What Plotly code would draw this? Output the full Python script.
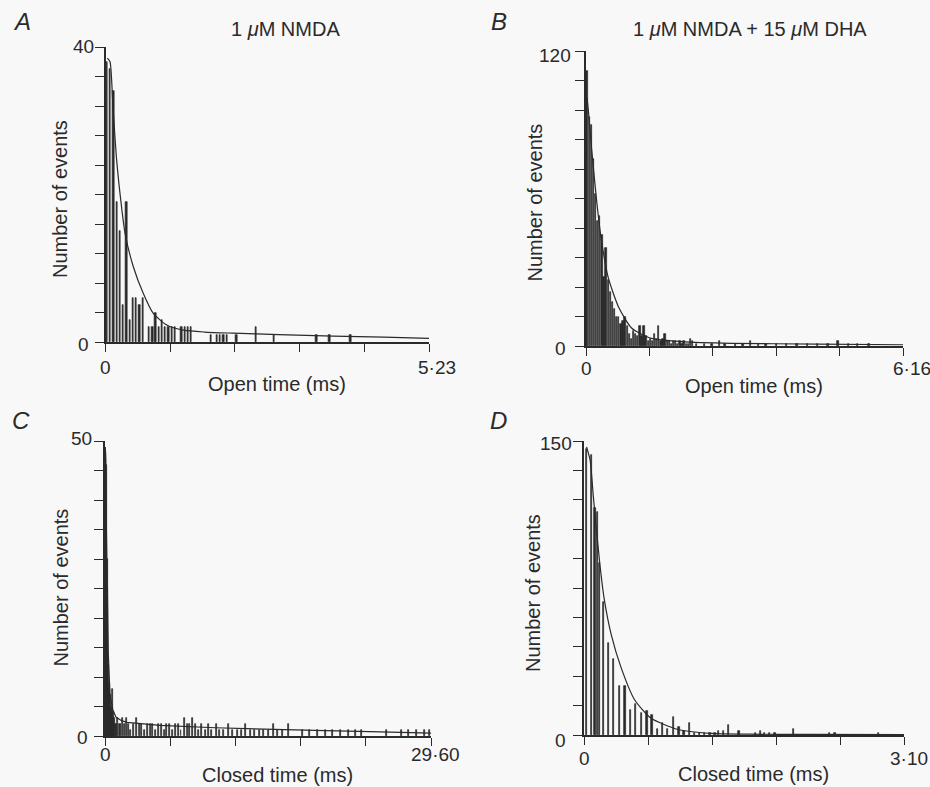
import plotly.graph_objects as go

W, H = 930, 787
BG = "#f8f8f8"
INK = "#2a2a2a"
FONT = "Liberation Sans, Arial, Helvetica, sans-serif"

# ---------------- data ----------------
# A: open times, 1 uM NMDA
times_A = [0.026, 0.078, 0.131, 0.183, 0.235, 0.288, 0.340, 0.392, 0.445, 0.497,
           0.549, 0.601, 0.706, 0.758, 0.810, 0.863, 0.915, 0.967, 1.020, 1.072,
           1.124, 1.229, 1.281, 1.334, 1.386, 1.700, 1.804, 1.856, 1.909, 1.961,
           2.118, 2.432, 2.719, 3.412, 3.622, 3.962]
counts_A = [38, 37, 34, 19, 15, 5, 19, 3, 6, 6,
            5, 6, 2, 2, 4, 2, 3, 2, 2, 2,
            2, 2, 2, 2, 2, 1, 1, 1, 1, 1,
            1, 2, 1, 1, 1, 1]
fit_t_A = [0.03, 0.073, 0.12, 0.18, 0.25, 0.315, 0.45, 0.61, 0.77, 0.99, 1.26, 1.6,
           2.06, 2.8, 3.68, 4.5, 5.23]
fit_v_A = [38.5, 38, 32, 24.7, 19, 14.8, 10.2, 6.6, 3.9, 2.3, 1.6, 1.35,
           1.2, 1.0, 0.8, 0.65, 0.5]

# B: open times, 1 uM NMDA + 15 uM DHA
times_B = [0.021, 0.062, 0.103, 0.144, 0.185, 0.226, 0.267, 0.308, 0.349, 0.390,
           0.431, 0.472, 0.513, 0.554, 0.595, 0.636, 0.677, 0.718, 0.759, 0.800,
           0.841, 0.882, 0.923, 0.964, 1.005, 1.046, 1.087, 1.128, 1.169, 1.210,
           1.251, 1.292, 1.333, 1.374, 1.415, 1.456, 1.497, 1.538, 1.579, 1.620,
           1.661, 1.702, 1.743, 1.784, 1.825, 1.866, 1.907, 1.948, 1.989, 2.030,
           2.071, 2.15, 2.30, 2.45, 2.60, 2.70, 2.90, 3.05, 3.20, 3.35,
           3.50, 3.70, 3.90, 4.10, 4.30, 4.50, 4.70, 4.90, 5.10, 5.28,
           5.50]
counts_B = [112, 93, 90, 76, 62, 51, 53, 45, 28, 40,
            27, 22, 18, 15, 12, 12, 9, 10, 12, 8,
            5, 3, 6, 5, 4, 8, 4, 8, 4, 2,
            3, 2, 5, 3, 8, 2, 3, 5, 2, 2,
            1, 2, 2, 1, 2, 1, 2, 1, 1, 3,
            2, 1, 1, 1, 2, 1, 1, 1, 2, 1,
            1, 1, 1, 1, 1, 1, 1, 2, 1, 1,
            1]
fit_t_B = [0.02, 0.045, 0.11, 0.207, 0.30, 0.43, 0.63, 0.89, 1.27, 1.86, 2.83, 4.5, 6.16]
fit_v_B = [101, 96, 80, 59, 43, 28, 16, 7.2, 3.1, 1.8, 1.1, 0.8, 0.5]

# C: closed times, 1 uM NMDA
times_C = [0.03, 0.09, 0.15, 0.21, 0.27, 0.33, 0.39, 0.45, 0.51, 0.57,
           0.63, 0.69, 0.75, 0.81, 0.87, 0.93, 1.0, 1.15, 1.3, 1.45,
           1.6, 1.75, 1.97, 2.15, 2.35, 2.55, 2.88, 3.1, 3.35, 3.6,
           3.85, 4.09, 4.35, 4.6, 4.85, 5.15, 5.4, 5.6, 5.9, 6.15,
           6.4, 6.66, 6.9, 7.18, 7.45, 7.7, 7.93, 8.2, 8.5, 8.8,
           9.1, 9.4, 9.7, 10.1, 10.4, 10.8, 11.2, 11.6, 12.0, 12.4,
           12.8, 13.2, 13.6, 14.0, 14.4, 14.8, 15.3, 15.7, 16.1, 16.7,
           17.9, 18.6, 19.3, 20.0, 20.7, 21.4, 22.1, 22.7, 23.3, 25.6,
           26.9, 27.6, 28.3, 29.0, 29.5]
counts_C = [47, 48, 46, 30, 25, 12, 9, 8, 7, 5,
            4, 8, 4, 3, 3, 2, 2, 3, 2, 2,
            3, 2, 3, 2, 1, 2, 3, 2, 2, 1,
            2, 2, 2, 1, 2, 2, 1, 2, 2, 1,
            2, 2, 1, 3, 2, 2, 3, 2, 1, 2,
            1, 2, 1, 2, 1, 1, 2, 1, 1, 1,
            2, 1, 1, 1, 1, 1, 2, 1, 1, 2,
            1, 1, 1, 1, 1, 1, 1, 1, 1, 1,
            1, 1, 1, 1, 1]
fit_t_C = [0.03, 0.06, 0.12, 0.21, 0.3, 0.45, 0.7, 1.0, 1.5, 2.0, 3.5, 5, 10, 15, 20, 25, 29.6]
fit_v_C = [49, 47, 36, 25, 14, 7, 4.5, 3.2, 2.6, 2.3, 2.0, 1.8, 1.4, 1.1, 0.9, 0.7, 0.5]

# D: closed times, 1 uM NMDA + 15 uM DHA
times_D = [0.023, 0.074, 0.108, 0.129, 0.152, 0.191, 0.239, 0.288, 0.342, 0.397,
           0.449, 0.500, 0.555, 0.610, 0.660, 0.710, 0.760, 0.810, 0.870, 0.920,
           0.970, 1.020, 1.070, 1.120, 1.170, 1.220, 1.270, 1.300, 1.350, 1.400,
           1.500, 1.660, 1.710, 1.750, 1.800, 1.850, 2.030, 2.380, 2.430, 2.850]
counts_D = [146, 143, 116, 114, 88, 68, 47, 39, 25, 25,
            13, 16, 11, 12, 10, 3, 6, 3, 9, 4,
            2, 6, 1, 1, 1, 1, 1, 2, 2, 5,
            2, 1, 2, 1, 1, 1, 3, 1, 1, 1]
fit_t_D = [0.025, 0.06, 0.09, 0.12, 0.152, 0.194, 0.265, 0.362, 0.49, 0.65, 0.91, 1.23, 1.6, 2.2, 3.1]
fit_v_D = [147, 140, 122, 105, 88, 70, 51, 34, 18, 8.5, 2.8, 0.8, 0.4, 0.3, 0.2]

x_max_labels = ["5·23", "6·16", "29·60", "3·10"]
x_max_values = [5.23, 6.16, 29.60, 3.10]
y_max_values = [40, 120, 50, 150]
x_titles = ["Open time (ms)", "Open time (ms)", "Closed time (ms)", "Closed time (ms)"]
panel_letters = ["A", "B", "C", "D"]
panel_titles = ["1 <i>μ</i>M NMDA", "1 <i>μ</i>M NMDA + 15 <i>μ</i>M DHA"]

# ---------------- layout geometry (pixels) ----------------
panels = [
    dict(t=times_A, n=counts_A, ft=fit_t_A, fv=fit_v_A, bw=0.021, shape="spline",
         px=(105.5, 429, 47, 342), ytl=(-10, 1), y0l=(-15, -2), xl=(-25, 8), yt=46, yts=5,
         xts=-42),
    dict(t=times_B, n=counts_B, ft=fit_t_B, fv=fit_v_B, bw=0.026, shape="spline",
         px=(586, 903, 51, 346), ytl=(-13, -5), y0l=(-18, -2), xl=(-22, 9), yt=52, yts=4,
         xts=-40),
    dict(t=times_C, n=counts_C, ft=fit_t_C, fv=fit_v_C, bw=0.09, shape="linear",
         px=(105, 431, 441, 736), ytl=(-11, 2), y0l=(-15, -1), xl=(-18, 4), yt=45, yts=-1,
         xts=-39),
    dict(t=times_D, n=counts_D, ft=fit_t_D, fv=fit_v_D, bw=0.013, shape="spline",
         px=(584, 904, 441, 735), ytl=(-10, -3), y0l=(-16, -5), xl=(-23, 5), yt=51, yts=5,
         xts=-39),
]

fig = go.Figure()
annotations = []
tick_font = dict(family=FONT, size=19, color=INK)
text_font = dict(family=FONT, size=20, color=INK)

for i, p in enumerate(panels):
    k = "" if i == 0 else str(i + 1)
    xa, ya = "x" + k, "y" + k
    x0, x1, ytop, ybot = p["px"]
    xmax, ymax = x_max_values[i], y_max_values[i]

    fig.add_trace(go.Bar(
        x=p["t"], y=p["n"], width=p["bw"], xaxis=xa, yaxis=ya,
        marker=dict(color=INK, line=dict(color=INK, width=0.7)),
        showlegend=False, hoverinfo="x+y"))
    fig.add_trace(go.Scatter(
        x=p["ft"], y=p["fv"], mode="lines", xaxis=xa, yaxis=ya,
        line=dict(color=INK, width=1.2, shape=p["shape"], smoothing=0.6),
        showlegend=False, hoverinfo="skip"))

    axis_common = dict(showline=True, linecolor=INK, linewidth=1.5, ticks="outside",
                       tickcolor=INK, tickwidth=1.3, showgrid=False, zeroline=False,
                       showticklabels=False, fixedrange=True)
    fig.update_layout(**{
        ("xaxis" + k): dict(axis_common, domain=[x0 / W, x1 / W], range=[0, xmax],
                            tickvals=[xmax * j / 5 for j in range(6)], ticklen=8,
                            anchor=ya),
        ("yaxis" + k): dict(axis_common, domain=[1 - ybot / H, 1 - ytop / H],
                            range=[0, ymax],
                            tickvals=[ymax * j / 10 for j in range(11)], ticklen=9,
                            anchor=xa),
    })

    xr, yr = xa, ya
    # y tick labels
    annotations.append(dict(x=0, y=ymax, xref=xr, yref=yr, text=str(ymax), showarrow=False,
                            xanchor="right", yanchor="middle", xshift=p["ytl"][0],
                            yshift=p["ytl"][1], font=tick_font))
    annotations.append(dict(x=0, y=0, xref=xr, yref=yr, text="0", showarrow=False,
                            xanchor="right", yanchor="middle", xshift=p["y0l"][0],
                            yshift=p["y0l"][1], font=tick_font))
    # x tick labels
    annotations.append(dict(x=0, y=0, xref=xr, yref=yr, text="0", showarrow=False,
                            xanchor="center", yanchor="middle", yshift=p["xl"][0],
                            font=tick_font))
    annotations.append(dict(x=xmax, y=0, xref=xr, yref=yr, text=x_max_labels[i],
                            showarrow=False, xanchor="center", yanchor="middle",
                            xshift=p["xl"][1], yshift=p["xl"][0], font=tick_font))
    # axis titles
    annotations.append(dict(x=0.53, y=0, xref=xr + " domain", yref=yr + " domain",
                            text=x_titles[i], showarrow=False, xanchor="center",
                            yanchor="middle", yshift=p["xts"], font=text_font))
    annotations.append(dict(x=0, y=0.5, xref=xr + " domain", yref=yr + " domain",
                            text="Number of events", showarrow=False, textangle=-90,
                            xanchor="center", yanchor="middle", xshift=-p["yt"],
                            yshift=-p["yts"], font=text_font))

# panel letters
for letter, (cx, cy) in zip(panel_letters, [(22, 22), (499, 22), (21, 421), (499, 421)]):
    annotations.append(dict(x=cx / W, y=1 - cy / H, xref="paper", yref="paper",
                            text="<i>" + letter + "</i>", showarrow=False,
                            xanchor="center", yanchor="middle",
                            font=dict(family=FONT, size=24, color=INK)))
# panel titles
for title, (cx, cy) in zip(panel_titles, [(285, 29), (750, 29)]):
    annotations.append(dict(x=cx / W, y=1 - cy / H, xref="paper", yref="paper",
                            text=title, showarrow=False, xanchor="center",
                            yanchor="middle", font=text_font))

fig.update_layout(width=W, height=H, margin=dict(l=0, r=0, t=0, b=0),
                  paper_bgcolor=BG, plot_bgcolor=BG, annotations=annotations,
                  bargap=0, font=dict(family=FONT, color=INK))

fig.write_html("out.html", config={"displayModeBar": False},
               post_script="document.body.style.margin='0';"
                           "document.body.style.padding='0';"
                           "document.body.style.overflow='hidden';"
                           "document.body.style.background='" + BG + "';")
